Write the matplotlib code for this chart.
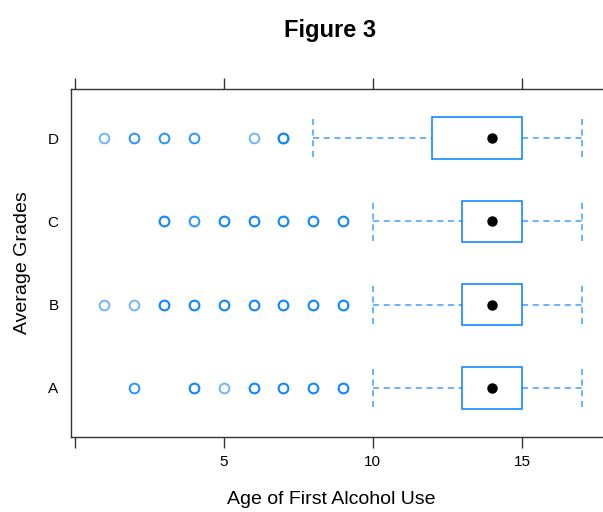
import matplotlib.pyplot as plt
import numpy as np

plt.rcParams['font.family'] = ['Liberation Sans', 'DejaVu Sans']

# --- DATA ---
grades = ["A", "B", "C", "D"]
q1 = [13, 13, 13, 12]
median = [14, 14, 14, 14]
q3 = [15, 15, 15, 15]
whisk_lo = [10, 10, 10, 8]
whisk_hi = [17, 17, 17, 17]

# outlier ages and rough overplot counts (darker circles = more points)
out_A = [2, 4, 5, 6, 7, 8, 9]
cnt_A = [2, 3, 1, 3, 3, 3, 3]
out_B = [1, 2, 3, 4, 5, 6, 7, 8, 9]
cnt_B = [1, 1, 3, 3, 3, 3, 3, 3, 3]
out_C = [3, 4, 5, 6, 7, 8, 9]
cnt_C = [3, 2, 3, 3, 3, 3, 3]
out_D = [1, 2, 3, 4, 6, 7]
cnt_D = [1, 2, 2, 2, 1, 4]

outliers = [(out_A, cnt_A), (out_B, cnt_B), (out_C, cnt_C), (out_D, cnt_D)]

blue = "#0080ff"

fig = plt.figure(figsize=(6.03, 5.12), dpi=100)
ax = fig.add_axes([71 / 603, 75 / 512, 544 / 603, 348 / 512])

hw = 0.25  # half box height
for i, g in enumerate(grades):
    y = i + 1
    # whiskers
    ax.plot([whisk_lo[i], q1[i]], [y, y], color=blue, lw=1.1, ls=(0, (4, 3)), alpha=0.75)
    ax.plot([q3[i], whisk_hi[i]], [y, y], color=blue, lw=1.1, ls=(0, (4, 3)), alpha=0.75)
    for w in (whisk_lo[i], whisk_hi[i]):
        ax.plot([w, w], [y - 0.23, y + 0.23], color=blue, lw=1.1, ls=(0, (4, 3)), alpha=0.75)
    # box
    ax.add_patch(plt.Rectangle((q1[i], y - hw), q3[i] - q1[i], 2 * hw,
                               fill=False, edgecolor=blue, lw=1.1))
    # median dot
    ax.plot(median[i], y, 'o', color='black', ms=6.5, zorder=5)
    # outliers, drawn repeatedly to mimic overplotting
    xs, cs = outliers[i]
    for x, c in zip(xs, cs):
        for _ in range(c):
            ax.plot(x, y, 'o', mfc='none', mec=blue, ms=7, mew=1.3, alpha=0.6)

ax.set_xlim(-0.12, 18.12)
ax.set_ylim(0.41, 4.59)
ax.set_yticks(range(1, 5))
ax.set_yticklabels(grades, fontsize=11)
ax.set_xticks([0, 5, 10, 15])
ax.set_xticklabels(["", "5", "10", "15"], fontsize=11)
ax.tick_params(axis='y', length=0, pad=9)
ax.tick_params(axis='x', direction='out', length=8, width=1, color='#333333',
               top=True, labeltop=False, pad=5)
for s in ax.spines.values():
    s.set_color('#333333')
    s.set_linewidth(1)

ax.set_xlabel("Age of First Alcohol Use", fontsize=14, labelpad=17)
ax.xaxis.set_label_coords((331 - 71) / 544, -0.155)
ax.set_ylabel("Average Grades", fontsize=14, labelpad=12)
fig.text(330 / 603, 1 - 30 / 512, "Figure 3", ha='center', va='center',
         fontsize=17, fontweight='bold')

fig.savefig("out.png", dpi=100)
